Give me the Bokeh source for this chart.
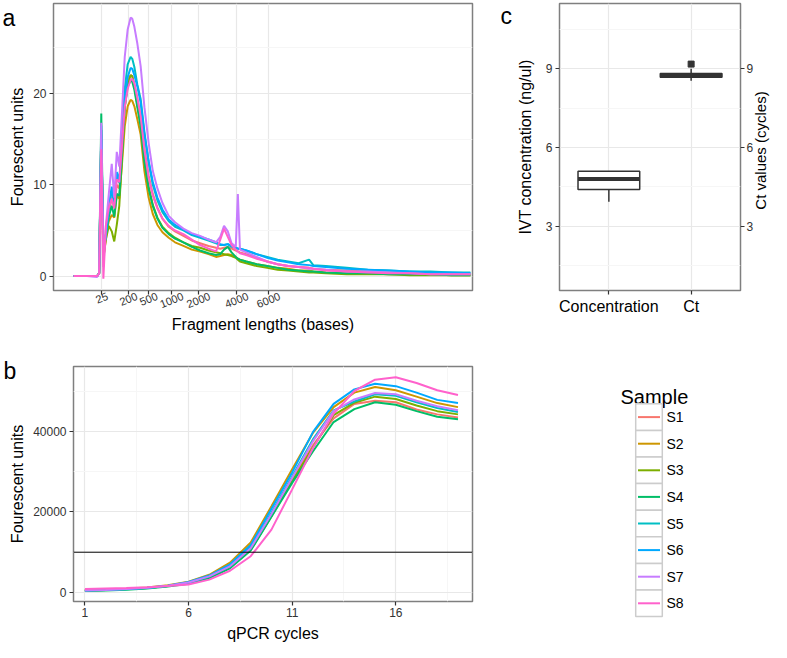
import math
from bokeh.plotting import figure
from bokeh.models import Range1d, FixedTicker, LinearAxis, Span, GridBox
from bokeh.embed import file_html
from bokeh.resources import INLINE
from bokeh.core.properties import value

FONT = "Liberation Sans"
TXT = "#333333"

samples = ["S1", "S2", "S3", "S4", "S5", "S6", "S7", "S8"]
sample_colors = ["#F8766D", "#CD9600", "#7CAE00", "#00BE67",
                 "#00BFC4", "#00A9FF", "#C77CFF", "#FF61CC"]

# ---------------- panel a : Bioanalyzer traces ----------------
time_s = [4.8, 8.0, 10.4, 10.9, 11.4, 11.9, 12.5, 13.2, 13.9, 14.5, 15.1, 15.7,
          16.3, 17.0, 17.7, 18.4, 18.8, 19.3, 20.0, 20.8, 21.7, 22.7, 23.7, 24.8,
          26.0, 27.5, 29.0, 31.0, 33.0, 35.0, 37.0, 38.8, 39.8, 40.7, 41.6, 42.5,
          43.5, 44.0, 44.5, 46.0, 48.5, 51.0, 53.5, 56.0, 58.5, 61.0, 62.0, 65.0,
          70.0, 75.0, 80.0, 85.0, 90.0, 95.0, 99.5]
fu_s1 = [0, 0, 0, 0.3, 15.5, 2.0, 4.0, 6.8, 8.6, 7.5, 10.0, 9.6, 13.5, 19.0, 21.5,
         22.0, 21.9, 21.0, 19.5, 17.5, 14.0, 11.0, 9.0, 7.5, 6.3, 5.4, 4.9, 4.4,
         3.9, 3.6, 3.3, 3.1, 3.0, 3.1, 3.2, 3.0, 2.8, 2.7, 2.6, 2.4, 2.0, 1.6, 1.3,
         1.1, 1.0, 0.9, 0.8, 0.7, 0.6, 0.5, 0.4, 0.4, 0.3, 0.3, 0.3]
fu_s2 = [0, 0, 0, 0.3, 15.0, 2.0, 4.5, 6.0, 6.7, 6.4, 8.8, 8.5, 12.0, 16.4, 18.6,
         19.3, 19.2, 18.6, 17.2, 15.5, 11.5, 8.6, 6.8, 5.6, 4.8, 4.2, 3.7, 3.3,
         2.9, 2.7, 2.4, 2.1, 2.2, 2.3, 2.4, 2.3, 2.1, 1.9, 1.8, 1.6, 1.3, 1.1, 0.9,
         0.8, 0.6, 0.6, 0.5, 0.4, 0.3, 0.3, 0.2, 0.2, 0.2, 0.1, 0.1]
fu_s3 = [0, 0, 0, 0.3, 16.0, 2.0, 4.0, 5.5, 4.9, 3.8, 5.6, 7.7, 12.5, 18.5, 21.0,
         22.0, 21.9, 20.8, 18.8, 16.6, 12.8, 9.8, 7.8, 6.4, 5.4, 4.7, 4.2, 3.7,
         3.3, 3.1, 2.8, 2.6, 2.5, 2.4, 2.3, 2.2, 2.0, 1.8, 1.6, 1.4, 1.1, 0.9, 0.7,
         0.6, 0.5, 0.4, 0.4, 0.3, 0.2, 0.2, 0.2, 0.1, 0.1, 0.1, 0.1]
fu_s4 = [0, 0, 0, 0.3, 17.8, 3.0, 4.5, 6.5, 7.7, 6.5, 9.0, 8.8, 13.0, 18.5, 20.8,
         21.4, 21.3, 20.4, 18.5, 16.4, 12.5, 9.6, 7.7, 6.3, 5.3, 4.6, 4.1, 3.7,
         3.2, 2.8, 2.5, 2.3, 2.4, 2.9, 3.2, 2.6, 2.1, 1.9, 1.8, 1.6, 1.3, 1.1, 0.9,
         0.7, 0.6, 0.5, 0.5, 0.4, 0.3, 0.3, 0.2, 0.2, 0.2, 0.1, 0.1]
fu_s5 = [0, 0, 0, 0.3, 16.0, 2.5, 4.5, 7.2, 9.5, 7.8, 11.0, 10.2, 15.0, 20.5, 23.2,
         24.0, 23.8, 22.9, 21.0, 19.4, 15.8, 12.5, 10.0, 8.3, 7.0, 6.0, 5.4, 5.0,
         4.5, 4.2, 3.9, 3.6, 3.4, 3.4, 3.5, 3.2, 3.1, 3.0, 3.0, 2.8, 2.4, 2.1, 1.8,
         1.6, 1.4, 1.8, 1.2, 1.1, 0.9, 0.7, 0.6, 0.5, 0.5, 0.4, 0.4]
fu_s6 = [0, 0, 0, 0.3, 16.5, 2.5, 4.5, 7.5, 9.8, 8.0, 11.4, 10.5, 14.5, 19.5, 21.8,
         22.8, 22.7, 22.0, 20.8, 19.0, 15.5, 12.6, 10.3, 8.6, 7.3, 6.2, 5.6, 5.1,
         4.6, 4.3, 4.0, 3.7, 3.5, 3.4, 3.5, 3.3, 3.1, 3.0, 3.0, 2.8, 2.4, 2.0, 1.7,
         1.5, 1.3, 1.2, 1.1, 1.0, 0.8, 0.7, 0.6, 0.5, 0.4, 0.4, 0.3]
fu_s7 = [0, 0, -0.1, 0.3, 16.8, 1.0, 5.5, 9.0, 12.3, 8.6, 13.6, 12.0, 17.5, 24.0,
         27.0, 28.3, 28.2, 27.3, 25.5, 23.0, 18.5, 14.6, 11.5, 9.6, 8.0, 6.6, 5.9,
         5.2, 4.7, 4.4, 4.0, 3.7, 4.3, 5.5, 4.9, 3.6, 3.2, 9.0, 2.9, 2.6, 2.1, 1.6,
         1.3, 1.1, 1.0, 0.8, 0.8, 0.7, 0.5, 0.5, 0.4, 0.3, 0.2, 0.2, 0.2]
fu_s8 = [0, 0, 0, 0.3, 13.9, -0.3, 5.5, 7.5, 8.5, 7.4, 10.6, 10.3, 14.0, 18.5, 20.5,
         21.5, 21.6, 21.1, 19.5, 17.5, 13.8, 10.8, 8.8, 7.4, 6.3, 5.5, 5.0, 4.6,
         4.0, 3.4, 3.0, 2.7, 4.0, 5.2, 4.3, 3.4, 2.9, 2.7, 2.5, 2.3, 1.9, 1.6, 1.3,
         1.1, 1.0, 0.9, 0.8, 0.6, 0.5, 0.4, 0.3, 0.3, 0.2, 0.2, 0.2]
ladder_time = [11.5, 17.9, 22.7, 28.2, 34.6, 43.7, 51.3]
ladder_bp = ["25", "200", "500", "1000", "2000", "4000", "6000"]
fu_ticks = [0, 10, 20]
fu_minor = [5, 15, 25]

# ---------------- panel b : qPCR amplification ----------------
cycles = [1, 2, 3, 4, 5, 6, 7, 8, 9, 10, 11, 12, 13, 14, 15, 16, 17, 18, 19]
qpcr_s1 = [500, 650, 850, 1100, 1600, 2400, 3900, 6300, 10800, 19000, 28000, 36500,
           43200, 46800, 47600, 47200, 45400, 44200, 43400]
qpcr_s2 = [600, 750, 950, 1250, 1800, 2700, 4400, 7400, 12400, 21400, 30600, 39600,
           46000, 49600, 51000, 50200, 48600, 47000, 46000]
qpcr_s3 = [500, 650, 850, 1100, 1600, 2400, 3800, 6200, 10600, 18900, 27600, 36000,
           44000, 47100, 48600, 48000, 46400, 45000, 44200]
qpcr_s4 = [350, 500, 700, 1000, 1500, 2200, 3600, 6000, 10400, 18800, 27200, 35000,
           42300, 45500, 47200, 46600, 45000, 43600, 43000]
qpcr_s5 = [450, 600, 800, 1100, 1600, 2400, 4000, 6600, 11200, 19800, 28800, 38000,
           45200, 47400, 49200, 48800, 47200, 45800, 44800]
qpcr_s6 = [550, 700, 900, 1200, 1700, 2600, 4200, 7000, 11800, 20800, 29800, 39800,
           46800, 50400, 51800, 51200, 49600, 47800, 47000]
qpcr_s7 = [500, 650, 850, 1150, 1650, 2500, 4000, 6500, 11000, 19500, 28500, 37500,
           45000, 47900, 49500, 49200, 47600, 46200, 45200]
qpcr_s8 = [900, 1000, 1100, 1300, 1600, 2000, 3200, 5400, 9000, 15600, 25600, 35800,
           44400, 50000, 52800, 53400, 52000, 50200, 49000]
ct_threshold = 10000
cycle_ticks = [1, 6, 11, 16]
cycle_minor = [3.5, 8.5, 13.5, 18.5]
qpcr_ticks = [0, 20000, 40000]
qpcr_minor = [10000, 30000, 50000]

# ---------------- panel c : boxplots ----------------
box_categories = ["Concentration", "Ct"]
box_lower = [3.93, 8.55]
box_q1 = [4.40, 8.68]
box_median = [4.80, 8.75]
box_q3 = [5.10, 8.82]
box_upper = [5.10, 9.00]
outlier_category = ["Ct"]
outlier_value = [9.18]
box_ticks = [3, 6, 9]
box_minor = [1.5, 4.5, 7.5, 10.5]


def no_align(p):
    try:
        p.frame_align = False
    except Exception:
        pass


def style(p):
    no_align(p)
    p.outline_line_color = "#7F7F7F"
    p.outline_line_width = 1.5
    p.background_fill_color = "white"
    p.border_fill_color = "white"
    for ax in p.axis:
        ax.axis_line_color = None
        ax.major_tick_line_color = TXT
        ax.major_tick_line_width = 1.2
        ax.major_tick_out = 4
        ax.major_tick_in = 0
        ax.minor_tick_line_color = None
        ax.major_label_text_font = FONT
        ax.major_label_text_font_size = "12px"
        ax.major_label_text_color = TXT
        ax.major_label_standoff = 3
        ax.axis_label_text_font = FONT
        ax.axis_label_text_font_size = "16px"
        ax.axis_label_text_font_style = "normal"
        ax.axis_label_text_color = "black"
        ax.axis_label_standoff = 4
    for g in p.grid:
        g.grid_line_color = "#E8E8E8"
        g.grid_line_width = 1.2
        g.minor_grid_line_color = "#F6F6F6"
        g.minor_grid_line_width = 1.0


# ----- panel a -----
PA_FRAME_PX = 419.0
LABEL_ANGLE = 0.38
LABEL_DIGIT_PX = 6.1
pa = figure(width=497, height=336, output_backend="svg", toolbar_location=None,
            x_range=Range1d(0, 100), y_range=Range1d(-1.58, 29.86),
            min_border_left=53, min_border_right=25, min_border_top=3,
            min_border_bottom=45)
fu_series = [fu_s1, fu_s2, fu_s3, fu_s4, fu_s5, fu_s6, fu_s7, fu_s8]
for name, col, ys in zip(samples, sample_colors, fu_series):
    pa.line(time_s, ys, line_color=col, line_width=2)
# axis 1: tick marks at the ladder positions (drives the grid too)
pa.xaxis.ticker = FixedTicker(ticks=ladder_time)
pa.xaxis.major_label_overrides = {t: "" for t in ladder_time}
pa.yaxis.ticker = FixedTicker(ticks=fu_ticks, minor_ticks=fu_minor)
pa.yaxis.axis_label = "Fourescent units"
# axis 2: rotated labels, centred under the ladder ticks
units_per_px = (pa.x_range.end - pa.x_range.start) / PA_FRAME_PX
label_pos = [t + 0.5 * len(s) * LABEL_DIGIT_PX * math.cos(LABEL_ANGLE) * units_per_px
             for t, s in zip(ladder_time, ladder_bp)]
label_axis = LinearAxis(ticker=FixedTicker(ticks=label_pos),
                        major_label_overrides={p: s for p, s in zip(label_pos, ladder_bp)},
                        axis_label="Fragment lengths (bases)")
pa.add_layout(label_axis, "below")
style(pa)
tick_axis = pa.xaxis[0]
tick_axis.major_label_text_font_size = "1px"
tick_axis.major_label_standoff = 0
label_axis.major_tick_line_color = None
label_axis.major_tick_out = 0
label_axis.major_label_standoff = 1
label_axis.major_label_orientation = LABEL_ANGLE
label_axis.major_label_text_font_size = "11px"
label_axis.axis_label_standoff = 1

# ----- panel c -----
pc = figure(width=274, height=336, output_backend="svg", toolbar_location=None,
            x_range=Range1d(0.4, 2.6), y_range=Range1d(0.55, 11.49),
            min_border_left=62, min_border_right=31, min_border_top=3,
            min_border_bottom=46)
xpos = [i + 1 for i in range(len(box_categories))]
half = 0.375
pc.segment(x0=xpos, y0=box_q3, x1=xpos, y1=box_upper, line_color=TXT, line_width=1.5)
pc.segment(x0=xpos, y0=box_lower, x1=xpos, y1=box_q1, line_color=TXT, line_width=1.5)
pc.vbar(x=xpos, width=2 * half, bottom=box_q1, top=box_q3, fill_color="white",
        line_color=TXT, line_width=1.5)
pc.segment(x0=[x - half for x in xpos], y0=box_median, x1=[x + half for x in xpos],
           y1=box_median, line_color=TXT, line_width=4)
ox = [box_categories.index(c) + 1 for c in outlier_category]
pc.scatter(ox, outlier_value, marker="square", size=6, color=TXT)
pc.xaxis.ticker = FixedTicker(ticks=xpos)
pc.xaxis.major_label_overrides = {x: c for x, c in zip(xpos, box_categories)}
pc.yaxis.ticker = FixedTicker(ticks=box_ticks, minor_ticks=box_minor)
pc.yaxis.axis_label = "IVT concentration (ng/ul)"
right_axis = LinearAxis(ticker=FixedTicker(ticks=box_ticks))
pc.add_layout(right_axis, "right")
style(pc)
pc.xaxis.major_label_text_font_size = "16px"
pc.xaxis.major_label_text_color = "black"
pc.yaxis[0].axis_label_standoff = 9
right_axis.major_label_standoff = 2

# ----- panel b -----
pb = figure(width=497, height=306, output_backend="svg", toolbar_location=None,
            x_range=Range1d(0.45, 19.7), y_range=Range1d(-2232, 56080),
            min_border_left=73, min_border_right=25, min_border_top=30,
            min_border_bottom=41)
qpcr_series = [qpcr_s1, qpcr_s2, qpcr_s3, qpcr_s4, qpcr_s5, qpcr_s6, qpcr_s7, qpcr_s8]
for name, col, ys in zip(samples, sample_colors, qpcr_series):
    pb.line(cycles, ys, line_color=col, line_width=2)
pb.add_layout(Span(location=ct_threshold, dimension="width", line_color="black",
                   line_width=1))
pb.xaxis.ticker = FixedTicker(ticks=cycle_ticks, minor_ticks=cycle_minor)
pb.yaxis.ticker = FixedTicker(ticks=qpcr_ticks, minor_ticks=qpcr_minor)
pb.yaxis.axis_label = "Fourescent units"
style(pb)
pb.xaxis.major_label_standoff = 2

# ----- transparent overlay: panel letters, outer titles, legend -----
W, H = 771, 642
ov = figure(width=W, height=H, output_backend="svg", toolbar_location=None,
            x_range=Range1d(0, W), y_range=Range1d(H, 0), title=None,
            x_axis_location=None, y_axis_location=None, min_border=0)
no_align(ov)
ov.outline_line_color = None
ov.background_fill_color = None
ov.border_fill_color = None
ov.grid.visible = False

panel_letters = ["a", "b", "c"]
letter_x = [2, 3, 500]
letter_y = [17, 370, 15]
ov.text(x=letter_x, y=letter_y, text=panel_letters, text_font=value(FONT),
        text_font_size="23px", text_baseline="alphabetic", text_color="black")
ov.text(x=[272.5], y=[633], text=["qPCR cycles"], text_font=value(FONT),
        text_font_size="16px", text_align="center", text_baseline="alphabetic",
        text_color="black")
ov.text(x=[760], y=[150], text=["Ct values (cycles)"], angle=math.pi / 2,
        text_font=value(FONT), text_font_size="15px", text_align="center",
        text_baseline="middle", text_color="black")

key_left, key_size, key_top = 635.2, 26.6, 403.3
centers = [key_top + key_size * (i + 0.5) for i in range(len(samples))]
ov.text(x=[620], y=[396], text=["Sample"], text_font=value(FONT),
        text_font_size="20px", text_baseline="alphabetic", text_color="black")
ov.rect(x=[key_left + key_size / 2] * len(samples), y=centers, width=key_size,
        height=key_size, fill_color="white", line_color="#CCCCCC", line_width=1.5)
ov.segment(x0=[key_left + 2.3] * len(samples), y0=centers,
           x1=[key_left + key_size - 2.3] * len(samples), y1=centers,
           line_color=sample_colors, line_width=2)
ov.text(x=[666] * len(samples), y=centers, text=samples, text_font=value(FONT),
        text_font_size="14px", text_baseline="middle", text_color="black")

layout = GridBox(children=[(pa, 0, 0), (pc, 0, 1), (pb, 1, 0), (ov, 0, 0, 2, 2)])
open("out.html", "w").write(file_html(layout, INLINE))
